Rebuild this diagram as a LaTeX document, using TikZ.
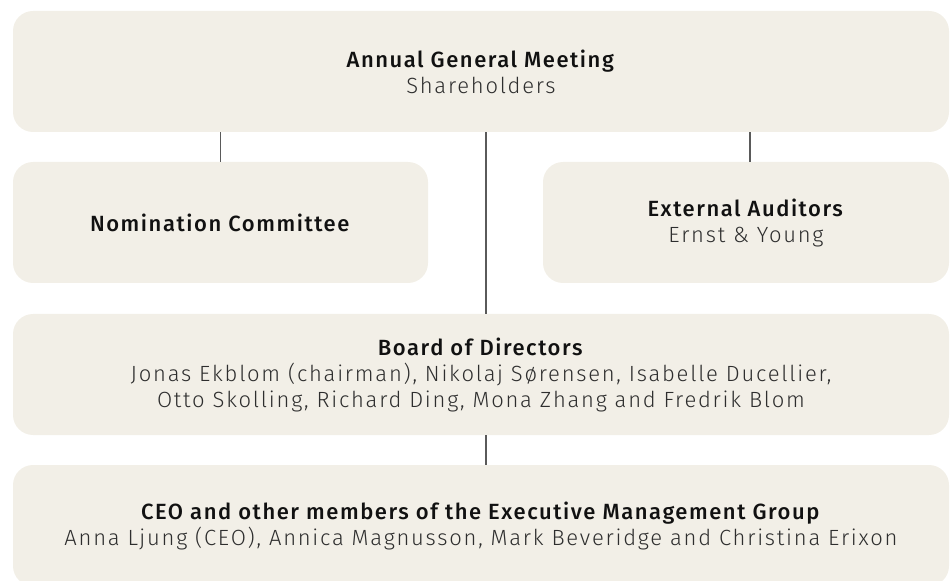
\documentclass[tikz,border=0pt]{standalone}
\usepackage{fontspec}
\setmainfont{Fira Sans}[UprightFont={Fira Sans Light}, BoldFont={Fira Sans Medium},
    LetterSpace=8, BoldFeatures={LetterSpace=7}]
\definecolor{boxfill}{HTML}{F2EFE7}
\definecolor{namegray}{HTML}{2E2E2E}
\definecolor{headblack}{HTML}{111111}
\definecolor{linegray}{HTML}{5A5A5A}
\newcommand{\head}[1]{\textcolor{headblack}{\textbf{#1}}}

\begin{document}
\begin{tikzpicture}[x=0.75pt,y=-0.75pt,
    box/.style={fill=boxfill,rounded corners=15pt,inner sep=0pt,align=center,
                text=namegray,font=\fontsize{16.5}{19.5}\selectfont,
                minimum height=90.75pt},
    wide/.style={box,minimum width=702pt},
    conn/.style={draw=linegray,line width=1pt}]
    \useasboundingbox (0,0) rectangle (951,581);
    \node[wide] (agm) at (481,71.5) {\head{Annual General Meeting}\\Shareholders};
    \node[box, minimum width=311.25pt] (nom) at (220.5,222.5) {\head{Nomination Committee}};
    \node[box, minimum width=304.5pt] (aud) at (746,222.5) {\head{External Auditors}\\Ernst \& Young};
    \node[wide] (board) at (481,374.5) {\head{Board of Directors}\\
        Jonas Ekblom (chairman), Nikolaj Sørensen, Isabelle Ducellier,\\
        Otto Skolling, Richard Ding, Mona Zhang and Fredrik Blom};
    \node[wide] (ceo) at (481,525.5) {\head{CEO and other members of the Executive Management Group}\\
        Anna Ljung (CEO), Annica Magnusson, Mark Beveridge and Christina Erixon};
    \path[conn]
    ([xshift=3.75pt]agm.south) edge ([xshift=3.75pt]board.north)
    ([xshift=3.75pt]board.south) edge ([xshift=3.75pt]ceo.north)
    (nom.north |- agm.south) edge (nom.north)
    ([xshift=3pt]aud.north |- agm.south) edge ([xshift=3pt]aud.north)
    ;
\end{tikzpicture}
\end{document}
